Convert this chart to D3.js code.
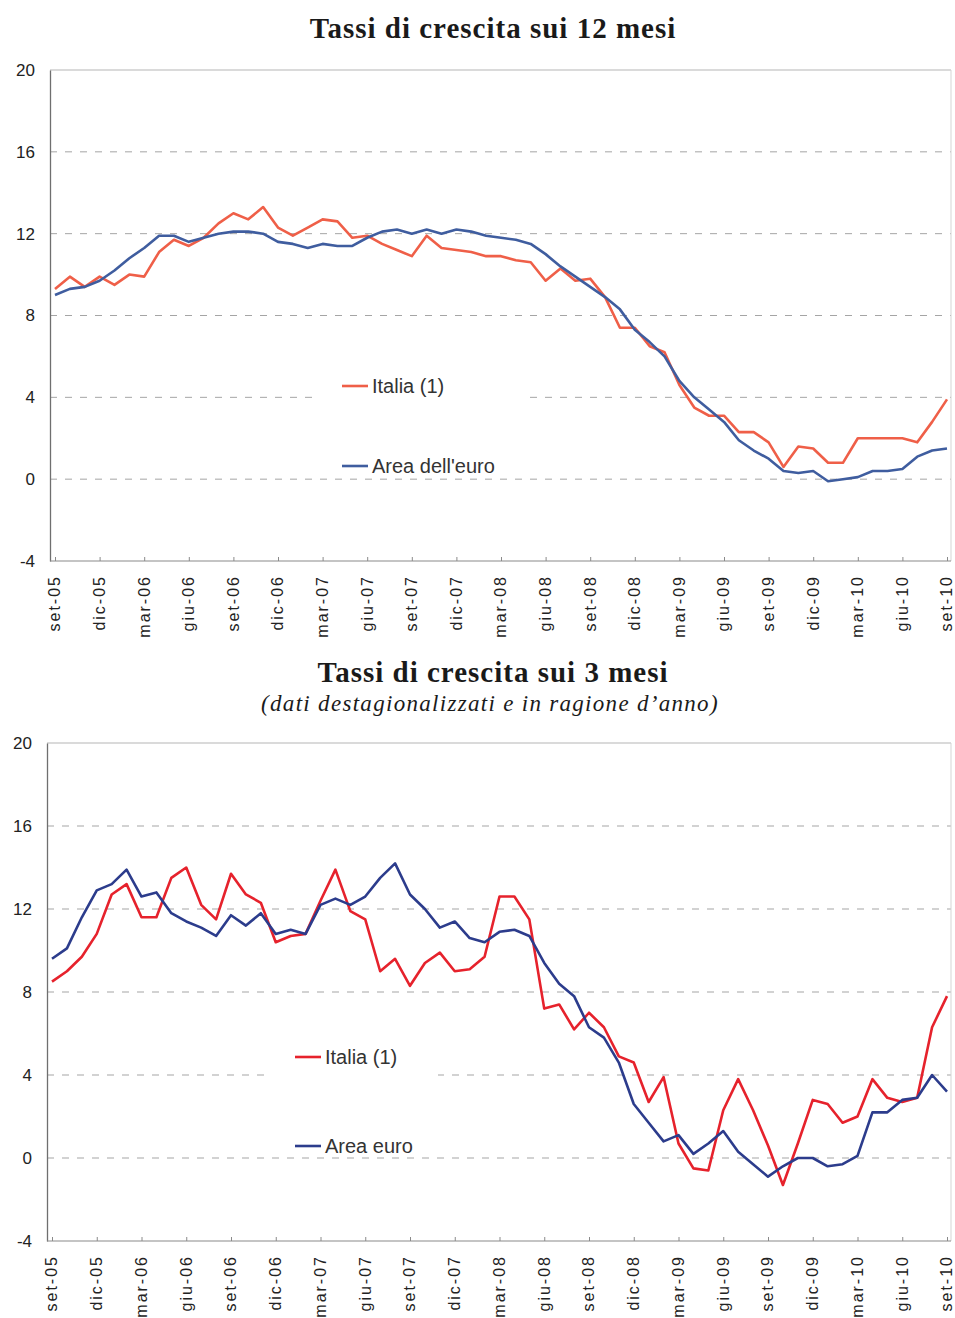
<!DOCTYPE html>
<html>
<head>
<meta charset="utf-8">
<script src="https://cdn.jsdelivr.net/npm/d3@7"></script>
<style>
  body { margin: 0; background: #fff; }
  svg { display: block; }
</style>
</head>
<body>
<svg id="chart" width="955" height="1318"></svg>
<script>
// tick labels, one every 3 months (set-05 .. set-10)
const tickLabels = ['set-05', 'dic-05', 'mar-06', 'giu-06', 'set-06', 'dic-06', 'mar-07',
  'giu-07', 'set-07', 'dic-07', 'mar-08', 'giu-08', 'set-08', 'dic-08', 'mar-09',
  'giu-09', 'set-09', 'dic-09', 'mar-10', 'giu-10', 'set-10'];

const yTicks = [-4, 0, 4, 8, 12, 16, 20];

// 12-month growth rates, monthly, set-05 .. set-10
const italia12 = [9.3, 9.9, 9.4, 9.9, 9.5, 10.0, 9.9, 11.1, 11.7, 11.4,
  11.8, 12.5, 13.0, 12.7, 13.3, 12.3, 11.9, 12.3, 12.7, 12.6,
  11.8, 11.9, 11.5, 11.2, 10.9, 11.9, 11.3, 11.2, 11.1, 10.9,
  10.9, 10.7, 10.6, 9.7, 10.3, 9.7, 9.8, 8.9, 7.4, 7.4,
  6.5, 6.2, 4.6, 3.5, 3.1, 3.1, 2.3, 2.3, 1.8, 0.6,
  1.6, 1.5, 0.8, 0.8, 2.0, 2.0, 2.0, 2.0, 1.8, 2.8, 3.9];

const euro12 = [9.0, 9.3, 9.4, 9.7, 10.2, 10.8, 11.3, 11.9, 11.9, 11.6,
  11.8, 12.0, 12.1, 12.1, 12.0, 11.6, 11.5, 11.3, 11.5, 11.4,
  11.4, 11.8, 12.1, 12.2, 12.0, 12.2, 12.0, 12.2, 12.1, 11.9,
  11.8, 11.7, 11.5, 11.0, 10.4, 9.9, 9.4, 8.9, 8.3, 7.3,
  6.7, 6.0, 4.8, 4.0, 3.4, 2.8, 1.9, 1.4, 1.0, 0.4,
  0.3, 0.4, -0.1, 0.0, 0.1, 0.4, 0.4, 0.5, 1.1, 1.4, 1.5];

// 3-month growth rates (seasonally adjusted, annualised)
const italia3 = [8.5, 9.0, 9.7, 10.8, 12.7, 13.2, 11.6, 11.6, 13.5, 14.0,
  12.2, 11.5, 13.7, 12.7, 12.3, 10.4, 10.7, 10.8, 12.4, 13.9,
  11.9, 11.5, 9.0, 9.6, 8.3, 9.4, 9.9, 9.0, 9.1, 9.7,
  12.6, 12.6, 11.5, 7.2, 7.4, 6.2, 7.0, 6.3, 4.9, 4.6,
  2.7, 3.9, 0.7, -0.5, -0.6, 2.3, 3.8, 2.3, 0.6, -1.3,
  0.7, 2.8, 2.6, 1.7, 2.0, 3.8, 2.9, 2.7, 2.9, 6.3, 7.8];

const euro3 = [9.6, 10.1, 11.6, 12.9, 13.2, 13.9, 12.6, 12.8, 11.8, 11.4,
  11.1, 10.7, 11.7, 11.2, 11.8, 10.8, 11.0, 10.8, 12.2, 12.5,
  12.2, 12.6, 13.5, 14.2, 12.7, 12.0, 11.1, 11.4, 10.6, 10.4,
  10.9, 11.0, 10.7, 9.4, 8.4, 7.8, 6.3, 5.8, 4.6, 2.6,
  1.7, 0.8, 1.1, 0.2, 0.7, 1.3, 0.3, -0.3, -0.9, -0.4,
  0.0, 0.0, -0.4, -0.3, 0.1, 2.2, 2.2, 2.8, 2.9, 4.0, 3.2];

const svg = d3.select('#chart');

function drawChart(opts) {
  const g = svg.append('g');
  const x = d3.scaleLinear().domain([0, 60]).range([opts.x0, opts.x1]);
  const y = d3.scaleLinear().domain([-4, 20]).range([opts.bottom, opts.top]);

  // titles
  g.append('text')
    .attr('x', 493).attr('y', opts.titleY)
    .attr('text-anchor', 'middle')
    .style('font-family', '"Liberation Serif", "Times New Roman", serif')
    .style('font-weight', 'bold').style('font-size', '29px')
    .style('letter-spacing', '1px')
    .attr('fill', '#1a1a1a')
    .text(opts.title);
  if (opts.subtitle) {
    g.append('text')
      .attr('x', 490).attr('y', opts.subY)
      .attr('text-anchor', 'middle')
      .style('font-family', '"Liberation Serif", "Times New Roman", serif')
      .style('font-style', 'italic').style('font-size', '23px')
      .style('letter-spacing', '1.3px')
      .attr('fill', '#1a1a1a')
      .text(opts.subtitle);
  }

  // gridlines (dashed)
  g.append('g')
    .selectAll('line')
    .data([0, 4, 8, 12, 16])
    .enter()
    .append('line')
    .attr('x1', opts.left).attr('x2', opts.right)
    .attr('y1', d => y(d)).attr('y2', d => y(d))
    .attr('stroke', '#a5a5a5').attr('stroke-width', 1)
    .attr('stroke-dasharray', '7,8');

  // frame: top and right thin, left/bottom axes
  g.append('line')
    .attr('x1', opts.left).attr('x2', opts.right)
    .attr('y1', y(20)).attr('y2', y(20))
    .attr('stroke', '#b5b5b5');
  g.append('line')
    .attr('x1', opts.right).attr('x2', opts.right)
    .attr('y1', y(20)).attr('y2', y(-4))
    .attr('stroke', '#d5d5d5');

  // y axis
  const yAxis = g.append('g')
    .attr('transform', `translate(${opts.left},0)`)
    .call(d3.axisLeft(y).tickValues(yTicks).tickSize(0).tickPadding(15).tickFormat(d => String(d)));
  yAxis.select('.domain').attr('stroke', '#6f6f6f').attr('stroke-width', 1.3);
  yAxis.selectAll('text')
    .style('font-family', '"Liberation Sans", Arial, sans-serif')
    .style('font-size', '17px')
    .attr('fill', '#222');

  // x axis
  const xAxis = g.append('g')
    .attr('transform', `translate(0,${opts.bottom})`)
    .call(d3.axisBottom(x)
      .tickValues(d3.range(0, 61, 3))
      .tickFormat((d, i) => tickLabels[i])
      .tickSize(4));
  xAxis.select('.domain').attr('stroke', '#8a8a8a').attr('stroke-width', 1.2)
    .attr('d', `M${opts.left},0H${opts.right}`);
  xAxis.selectAll('.tick line').attr('stroke', '#8a8a8a').attr('y2', -4);
  xAxis.selectAll('text')
    .attr('transform', 'rotate(-90)')
    .attr('text-anchor', 'end')
    .attr('x', -14).attr('y', 0).attr('dy', '0.3em')
    .style('font-family', '"Liberation Sans", Arial, sans-serif')
    .style('font-size', '16px')
    .style('letter-spacing', '2px')
    .attr('fill', '#222');

  // legend background + entries
  g.append('rect')
    .attr('x', opts.legBox[0]).attr('y', opts.legBox[1])
    .attr('width', opts.legBox[2]).attr('height', opts.legBox[3])
    .attr('fill', '#fff');

  const line = d3.line().x((d, i) => x(i)).y(d => y(d));
  opts.series.forEach(s => {
    g.append('path')
      .datum(s.values)
      .attr('d', line)
      .attr('fill', 'none')
      .attr('stroke', s.color)
      .attr('stroke-width', 2.6)
      .attr('stroke-linejoin', 'round');
  });

  opts.series.forEach((s, k) => {
    const ly = opts.legY[k];
    g.append('line')
      .attr('x1', opts.legX).attr('x2', opts.legX + 26)
      .attr('y1', ly).attr('y2', ly)
      .attr('stroke', s.color).attr('stroke-width', 2.6);
    g.append('text')
      .attr('x', opts.legX + 30).attr('y', ly + 7)
      .style('font-family', '"Liberation Sans", Arial, sans-serif')
      .style('font-size', '20px')
      .attr('fill', '#333')
      .text(s.name);
  });
}

drawChart({
  title: 'Tassi di crescita sui 12 mesi',
  titleY: 38,
  left: 50, x0: 55, x1: 947, right: 951, top: 70, bottom: 561,
  legX: 342, legY: [386, 466],
  legBox: [313, 370, 217, 106],
  series: [
    { name: 'Italia (1)', values: italia12, color: '#ef5f48' },
    { name: "Area dell'euro", values: euro12, color: '#3f5d9f' },
  ],
});

drawChart({
  title: 'Tassi di crescita sui 3 mesi',
  titleY: 682,
  subtitle: '(dati destagionalizzati e in ragione d\u2019anno)',
  subY: 711,
  left: 47, x0: 52, x1: 947, right: 951, top: 743, bottom: 1241,
  legX: 295, legY: [1057, 1146],
  legBox: [268, 1040, 170, 112],
  series: [
    { name: 'Italia (1)', values: italia3, color: '#e6222c' },
    { name: 'Area euro', values: euro3, color: '#2c3c8c' },
  ],
});
</script>
</body>
</html>
